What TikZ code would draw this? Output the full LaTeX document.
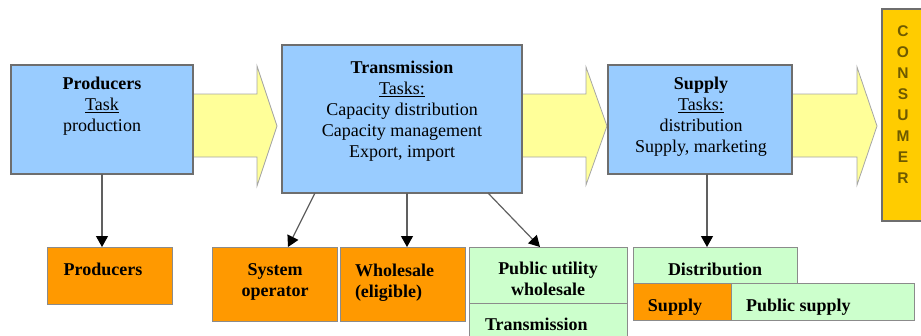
\documentclass[tikz,border=0pt]{standalone}
\usepackage{fontspec}
\setmainfont{Liberation Serif}
\newfontfamily\consumerfont{Liberation Sans}
\usetikzlibrary{arrows.meta,calc}

\definecolor{taskblue}{HTML}{99CCFF}
\definecolor{flowyellow}{HTML}{FFFF99}
\definecolor{roleorange}{HTML}{FF9900}
\definecolor{rolegreen}{HTML}{CCFFCC}
\definecolor{consumergold}{HTML}{FFCC00}
\definecolor{consumertext}{HTML}{6E5A00}
\definecolor{edgegray}{HTML}{6E6E6E}

\tikzset{
  x=1pt, y=-1pt,
  every node/.style={inner sep=0pt, outer sep=0pt},
  bigtext/.style={font=\fontsize{18}{21}\selectfont, align=center},
  taskbox/.style={draw=edgegray, line width=1.3pt, fill=taskblue, anchor=north west},
  rolebox/.style={draw=edgegray!80, line width=1pt, anchor=north west},
  orangebox/.style={rolebox, fill=roleorange},
  greenbox/.style={rolebox, fill=rolegreen},
  roletext/.style={font=\fontsize{18}{21}\bfseries\selectfont, align=center},
  flowarrow/.style={draw=gray!70, line width=0.8pt, fill=flowyellow},
  link/.style={draw=gray!75!black, line width=1.2pt,
    -{Triangle[length=11pt,width=12pt,color=black]}},
}

\begin{document}
\begin{tikzpicture}
\useasboundingbox (0,0) rectangle (921,335);
\clip (0,0) rectangle (921,335);

% block arrows carrying the flow from left to right
\draw[flowarrow] (193,94) -- (257,94) -- (257,66) -- (277,126) -- (257,186) -- (257,157) -- (193,157);
\draw[flowarrow] (522,94) -- (586,94) -- (586,67) -- (607,126) -- (586,185) -- (586,157) -- (522,157);
\draw[flowarrow] (792,94) -- (857,94) -- (857,67) -- (877,126) -- (857,185) -- (857,157) -- (792,157);

% upper row: the three task boxes
\node[taskbox, minimum width=182pt, minimum height=109pt] (prod) at (11,65) {};
\node[bigtext] (prodtxt) at (102,106.5) {\textbf{Producers}\\\underline{Task}\\production};

\node[taskbox, minimum width=240pt, minimum height=148pt] (trans) at (282,45) {};
\node[bigtext] (transtxt) at (402,111) {\textbf{Transmission}\\\underline{Tasks:}\\Capacity distribution\\Capacity management\\Export, import};

\node[taskbox, minimum width=184pt, minimum height=109pt] (supply) at (608,65) {};
\node[bigtext] (supplytxt) at (701,117) {\textbf{Supply}\\\underline{Tasks:}\\distribution\\Supply, marketing};

% consumer bar on the right
\node[draw=edgegray, line width=1.2pt, fill=consumergold, anchor=north west,
      minimum width=50pt, minimum height=212pt] (consumer) at (882,9) {};
\node[font=\consumerfont\fontsize{15.5}{21}\bfseries\selectfont, text=consumertext, align=center]
  (consumertxt) at (903,105) {C\\O\\N\\S\\U\\M\\E\\R};

% lower row: market roles
\node[orangebox, minimum width=125pt, minimum height=57pt] (prodrole) at (47,247) {};
\node[roletext] (prodroletxt) at (103,269) {Producers};

\node[orangebox, minimum width=125pt, minimum height=74pt] (sysop) at (212,247) {};
\node[roletext] (sysoptxt) at (275,282) {System\\operator};

\node[orangebox, minimum width=125pt, minimum height=74pt] (whole) at (340,247) {};
\node[roletext, anchor=west, align=left] (wholetxt) at (355,283) {Wholesale\\(eligible)};

\node[greenbox, minimum width=158pt, minimum height=56pt] (pubwh) at (469,247) {};
\node[roletext] (pubwhtxt) at (548,279) {Public utility\\wholesale};

\node[greenbox, minimum width=158pt, minimum height=50pt] (transrole) at (469,303) {};
\node[roletext, anchor=west] (transroletxt) at (485,324) {Transmission};

\node[greenbox, minimum width=164pt, minimum height=36pt] (dist) at (633,247) {};
\node[roletext] (disttxt) at (715,269) {Distribution};

\node[orangebox, minimum width=98pt, minimum height=37pt] (supplyrole) at (633,283) {};
\node[roletext] (supplyroletxt) at (675,307) {Supply};

\node[greenbox, minimum width=183pt, minimum height=37pt] (pubsup) at (731,283) {};
\node[roletext, anchor=west] (pubsuptxt) at (746,307) {Public supply};

% connectors from the tasks to the roles
\draw[link] (prod.south) -- (prod.south |- prodrole.north);
\draw[link] ([xshift=33pt]trans.south west) -- ([xshift=76pt]sysop.north west);
\draw[link] ([xshift=125pt]trans.south west) -- ([xshift=67pt]whole.north west);
\draw[link] ([xshift=206pt]trans.south west) -- ([xshift=71pt]pubwh.north west);
\draw[link] ([xshift=99pt]supply.south west) -- ([xshift=74pt]dist.north west);
\end{tikzpicture}
\end{document}
